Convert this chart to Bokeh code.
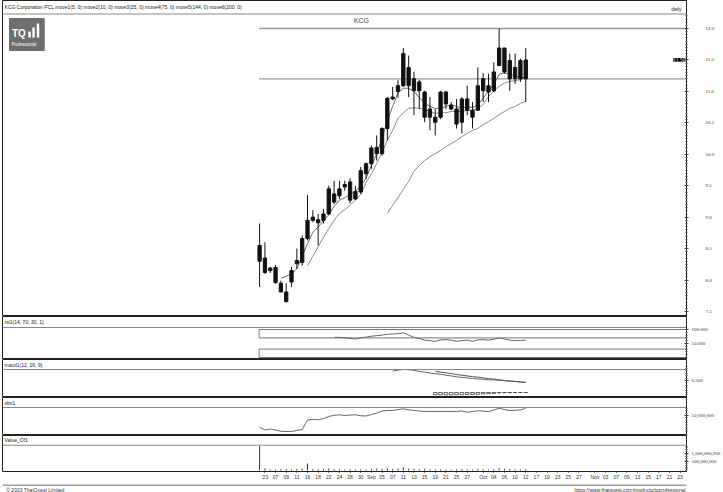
import numpy as np
from bokeh.plotting import figure
from bokeh.models import (ColumnDataSource, LinearAxis, FixedTicker, Range1d, Span, Label,
                          NumeralTickFormatter)
from bokeh.layouts import column
from bokeh.embed import file_html
from bokeh.resources import INLINE
from bokeh.core.properties import value

nan = float("nan")

# ---------------- data ----------------
symbol = "KCG"
title_text = "KCG Corporation PCL  move1(5, 0)  move2(10, 0)  move3(25, 0)  move4(75, 0)  move5(144, 0)  move6(200, 0)"

x_label_idx = [1, 3, 5, 7, 9, 11, 13, 15, 17, 19, 21, 23, 25, 27, 29, 31, 33, 35, 37, 39,
               42, 44, 46, 48, 50, 52, 54, 56, 58, 60, 63, 65, 67, 69, 71, 73, 75, 77, 79]
x_labels = ["'23", "07", "09", "11", "16", "18", "22", "24", "28", "30", "Sep", "05", "07", "11",
            "13", "15", "19", "21", "25", "27", "Oct", "04", "06", "10", "12", "17", "19", "23",
            "25", "27", "Nov", "03", "07", "09", "13", "15", "17", "21", "23"]

opens = [8.55, 8.35, 8.15, 8.20, 7.95, 7.81, 7.97, 8.26, 8.28, 8.66, 8.95, 8.96, 8.95, 9.05, 9.37,
         9.34, 9.48, 9.56, 9.29, 9.40, 9.69, 9.85, 10.01, 10.01, 10.41, 10.88, 11.00, 11.09, 11.38,
         11.20, 11.01, 10.99, 10.59, 10.59, 10.59, 10.99, 10.78, 10.72, 10.51, 10.88, 10.70, 10.70,
         11.01, 11.09, 11.01, 11.41, 11.69, 11.49, 11.20, 11.20, 11.20]
highs = [8.90, 8.60, 8.21, 8.24, 7.99, 7.95, 8.21, 8.50, 8.71, 9.35, 9.11, 9.05, 9.13, 9.50, 9.58,
         9.58, 9.58, 9.62, 9.50, 9.80, 9.87, 10.14, 10.30, 10.43, 10.91, 11.07, 11.18, 11.69, 11.57,
         11.31, 11.18, 11.01, 10.91, 10.72, 11.01, 11.01, 10.83, 10.88, 10.91, 11.09, 10.83, 11.38,
         11.29, 11.28, 11.46, 12.00, 11.69, 11.60, 11.60, 11.52, 11.69]
lows = [7.89, 8.10, 8.11, 7.94, 7.81, 7.64, 7.89, 8.18, 8.23, 8.63, 8.92, 8.55, 8.90, 9.03, 9.21,
        9.29, 9.42, 9.22, 9.27, 9.37, 9.61, 9.77, 9.90, 9.98, 10.22, 10.86, 10.90, 11.07, 10.91,
        10.62, 10.72, 10.51, 10.38, 10.30, 10.56, 10.72, 10.70, 10.41, 10.33, 10.62, 10.41, 10.70,
        10.83, 10.83, 10.99, 11.41, 11.28, 11.01, 11.12, 11.15, 10.83]
closes = [8.30, 8.12, 8.19, 7.96, 7.81, 7.66, 8.15, 8.31, 8.66, 8.95, 9.00, 8.91, 9.05, 9.45, 9.24,
          9.45, 9.52, 9.27, 9.41, 9.74, 9.85, 10.10, 10.11, 10.41, 10.89, 10.91, 11.09, 11.60, 11.09,
          11.01, 11.15, 10.59, 10.72, 10.51, 10.99, 10.80, 10.72, 10.48, 10.88, 10.70, 10.59, 11.09,
          11.20, 10.99, 11.31, 11.69, 11.31, 11.20, 11.38, 11.49, 11.50]

ma5 = [nan] * 4 + [8.03, 8.06, 8.10, 8.18, 8.38, 8.58, 8.76, 8.84, 8.95, 9.04, 9.17, 9.27, 9.31,
                   9.36, 9.41, 9.49, 9.62, 9.82, 10.01, 10.25, 10.54, 10.76, 10.98, 11.05, 11.05,
                   11.00, 10.90, 10.82, 10.76, 10.73, 10.73, 10.76, 10.79, 10.76, 10.73, 10.76,
                   10.74, 10.79, 10.89, 11.00, 11.11, 11.27, 11.30, 11.27, 11.25, 11.22, 11.22]
ma10 = [nan] * 9 + [8.23, 8.38, 8.53, 8.68, 8.82, 8.95, 9.06, 9.12, 9.19, 9.27, 9.36, 9.55, 9.69,
                    9.85, 10.03, 10.22, 10.38, 10.57, 10.66, 10.73, 10.74, 10.73, 10.71, 10.68,
                    10.65, 10.66, 10.66, 10.68, 10.68, 10.68, 10.70, 10.70, 10.73, 10.79, 10.92,
                    11.00, 11.08, 11.13, 11.16, 11.17, 11.19, 11.21]
ma25 = [nan] * 24 + [9.06, 9.19, 9.31, 9.44, 9.57, 9.73, 9.82, 9.90, 9.96, 10.01, 10.06, 10.12,
                     10.17, 10.22, 10.28, 10.33, 10.38, 10.41, 10.47, 10.52, 10.57, 10.63, 10.68,
                     10.73, 10.76, 10.81, 10.84]
h_levels = [12.00, 11.20]

rsi_levels = (70, 30)
rsi = [nan] * 14 + [72, 72, 70, 68, 66, 70, 73, 76, 78, 80, 83, 84, 85, 88, 80, 72, 68, 62, 60, 58,
                    63, 64, 62, 58, 60, 62, 58, 63, 64, 62, 65, 70, 66, 62, 60, 61, 62]

macd = [nan] * 25 + [0.89, 0.93, 0.96, 0.95, 0.92, 0.88, 0.85, 0.81, 0.78, 0.76, 0.72, 0.69, 0.66,
                     0.63, 0.61, 0.58, 0.57, 0.55, 0.53, 0.52, 0.51, 0.49, 0.47, 0.46, 0.44, 0.42]
signal = [nan] * 33 + [0.87, 0.85, 0.82, 0.79, 0.75, 0.72, 0.69, 0.66, 0.64, 0.61, 0.58, 0.56,
                       0.53, 0.50, 0.48, 0.46, 0.44, 0.42]
hist = [nan] * 33 + [-0.09, -0.09, -0.10, -0.10, -0.09, -0.09, -0.08, -0.08, -0.07, -0.06, -0.05,
                     -0.04, -0.02, -0.01, -0.01, 0.0, 0.0, 0.0]

obv = [0, -12e6, -8e6, -12e6, -17.5e6, -18.4e6, -18.4e6, -14e6, -10e6, 30.7e6, 33e6, 31.6e6, 37e6,
       45.7e6, 50.8e6, 53e6, 50e6, 52e6, 53e6, 48.7e6, 47.8e6, 54e6, 60.6e6, 69e6, 71.3e6, 71.3e6,
       75.6e6, 78.6e6, 74.3e6, 71.3e6, 69e6, 67e6, 67e6, 67e6, 67e6, 67e6, 67e6, 67e6, 69e6, 64e6,
       67e6, 70e6, 69e6, 67e6, 73.4e6, 81e6, 75.6e6, 71.3e6, 72.6e6, 73.4e6, 81e6]

value_traded = [1.40e9, 120e6, 60e6, 60e6, 80e6, 90e6, 70e6, 90e6, 110e6, 400e6, 90e6, 70e6, 90e6,
                120e6, 80e6, 70e6, 60e6, 80e6, 60e6, 70e6, 60e6, 100e6, 120e6, 100e6, 130e6, 90e6,
                120e6, 180e6, 110e6, 100e6, 80e6, 100e6, 70e6, 60e6, 70e6, 60e6, 50e6, 70e6, 80e6,
                60e6, 50e6, 90e6, 70e6, 60e6, 80e6, 140e6, 100e6, 90e6, 60e6, 70e6, 80e6]

# ---------------- layout helpers ----------------
FONT = "Liberation Sans"
AXFONT = "Liberation Sans Narrow"
W = 723
RB = 31
LB = 2
X_START, X_END = -48.3, 80.2
XR = Range1d(X_START, X_END)
idx = list(range(len(closes)))


def bx(xr):  # reference-pixel x -> bar index (decorations only)
    return (xr - 262.3) / 5.37


def lin(y_ref, a, b):
    (y0, v0), (y1, v1) = a, b
    return v0 + (y_ref - y0) * (v1 - v0) / (y1 - y0)


def base_fig(h, yr, bottom=0):
    f = figure(width=W, height=h, x_range=XR, y_range=Range1d(*yr), x_axis_type=None,
               y_axis_type=None, toolbar_location=None, output_backend="svg", min_border=0,
               min_border_left=LB, min_border_right=RB, min_border_bottom=bottom, min_border_top=0)
    f.outline_line_color = "#222"
    f.outline_line_width = 1
    f.background_fill_color = "white"
    f.border_fill_color = "white"
    return f


def right_axis(f, ticks, minor, fmt, standoff=3):
    ax = LinearAxis(ticker=FixedTicker(ticks=ticks, minor_ticks=minor),
                    formatter=NumeralTickFormatter(format=fmt))
    ax.major_label_text_font_size = "5px"
    ax.major_label_text_font = AXFONT
    ax.major_label_text_color = "#333"
    ax.major_tick_in = 2
    ax.major_tick_out = 2
    ax.minor_tick_in = 1
    ax.minor_tick_out = 1
    ax.major_tick_line_color = "#333"
    ax.minor_tick_line_color = "#555"
    ax.major_label_standoff = standoff
    ax.axis_line_color = "#222"
    f.add_layout(ax, "right")
    return ax


def header(f, text, y_text, y_line):
    f.add_layout(Label(x=bx(5), y=y_text, text=text, text_font=FONT, text_font_size="5px",
                       text_color="#222", text_baseline="middle"))
    f.add_layout(Span(location=y_line, dimension="width", line_color="#888", line_width=1))


# ---------------- price panel ----------------
PA, PB = (28, 12.0), (311, 7.5)
py = lambda yr: lin(yr, PA, PB)
pf = base_fig(316, (py(316), py(0)))

# logo
pf.quad(left=[bx(10)], right=[bx(45)], top=[py(18)], bottom=[py(50)], fill_color="#6e6e6e",
        line_color="#6e6e6e")
pf.text(x=[bx(12.5)], y=[py(33)], text=["TQ"], text_font=value(FONT), text_font_size="10px",
        text_font_style="bold", text_color="white", text_baseline="middle")
pf.quad(left=[bx(29), bx(33), bx(37.5)], right=[bx(31.5), bx(35.5), bx(40)],
        top=[py(31), py(27), py(23)], bottom=[py(37), py(37), py(37)], fill_color="white",
        line_color=None)
pf.text(x=[bx(12)], y=[py(44)], text=["Professional"], text_font=value(FONT),
        text_font_size="4.5px", text_color="white", text_baseline="middle")

header(pf, title_text, py(6.5), py(13.5))
pf.add_layout(Label(x=bx(688), y=py(8), text="daily", text_font=FONT, text_font_size="5px",
                    text_color="#222", text_baseline="middle", text_align="right"))
pf.add_layout(Label(x=bx(365), y=py(20), text=symbol, text_font=FONT, text_font_size="7px",
                    text_color="#444", text_baseline="middle", text_align="center"))

pf.segment(x0=[idx[0] - 0.1] * len(h_levels), y0=h_levels, x1=[X_END] * len(h_levels),
           y1=h_levels, line_color="#999", line_width=1.3)

src = ColumnDataSource(dict(x=idx, open=opens, high=highs, low=lows, close=closes,
                            top=np.maximum(opens, closes), bottom=np.minimum(opens, closes)))
pf.line(idx, ma25, line_color="#8a8a8a", line_width=1)
pf.line(idx, ma10, line_color="#8a8a8a", line_width=1)
pf.line(idx, ma5, line_color="#6a6a6a", line_width=1)
pf.segment(x0="x", y0="low", x1="x", y1="high", source=src, line_color="#111", line_width=1)
pf.vbar(x="x", width=0.62, top="top", bottom="bottom", source=src, fill_color="#111",
        line_color="#111", line_width=1)

price_ticks = [7.5, 8.0, 8.5, 9.0, 9.5, 10.0, 10.5, 11.0, 11.5, 12.0]
price_minor = [round(7.45 + 0.05 * i, 2) for i in range(96)]
right_axis(pf, price_ticks, price_minor, "0.0", standoff=17)
pf.add_layout(Label(x=X_END, y=closes[-1], x_offset=-1, text=f"{closes[-1]:.2f}", text_font=AXFONT,
                    text_font_size="5.5px", text_color="white", background_fill_color="black",
                    text_baseline="middle", text_align="right"))

# ---------------- RSI panel ----------------
RA, RBk = (357, 0), (329, 100)
ry = lambda yr: lin(yr, RA, RBk)
rf = base_fig(43, (ry(359), ry(316)))
header(rf, "rsi1(14, 70, 30, 1)", ry(321.5), ry(327))
rf.quad(left=[idx[0] - 0.1] * 2, right=[X_END] * 2, bottom=[rsi_levels[0], 0],
        top=[100, rsi_levels[1]], fill_color=None, line_color="#777", line_width=1)
rf.line(idx, rsi, line_color="#666", line_width=1)
right_axis(rf, [50, 100], [10 * i for i in range(11)], "0.000")

# ---------------- MACD panel ----------------
MA_, MB_ = (392, 0.0), (380, 0.5)
my = lambda yr: lin(yr, MA_, MB_)
mf = base_fig(38, (my(397), my(359)))
header(mf, "macd1(12, 26, 9)", my(364), my(369))
mf.vbar(x=idx, width=0.7, top=[0 if not np.isnan(v) else nan for v in hist], bottom=hist,
        fill_color="white", line_color="#444", line_width=0.8)
mf.line(idx, macd, line_color="#666", line_width=1)
mf.line(idx, signal, line_color="#555", line_width=1)
right_axis(mf, [0.5], [round(-0.1 + 0.1 * i, 2) for i in range(13)], "0.000")

# ---------------- OBV panel ----------------
OA, OB = (426.7, 0.0), (415, 50e6)
oy = lambda yr: lin(yr, OA, OB)
of = base_fig(38, (oy(435), oy(397)))
header(of, "obv1", oy(402), oy(407))
of.line(idx, obv, line_color="#666", line_width=1)
right_axis(of, [50e6], [10e6 * i for i in range(-3, 9)], "0,0")

# ---------------- Value panel ----------------
VA, VB = (471, 0.0), (453, 1e9)
vy = lambda yr: lin(yr, VA, VB)
vf = base_fig(47, (vy(472), vy(435)), bottom=10)
header(vf, "Value_Of1", vy(440), vy(445))
vf.segment(x0=idx, y0=[0] * len(idx), x1=idx, y1=value_traded, line_color="#333", line_width=1)
right_axis(vf, [5e8, 1e9], [1e8 * i for i in range(15)], "0,0")
xa = LinearAxis(ticker=FixedTicker(ticks=x_label_idx),
                major_label_overrides={i: s for i, s in zip(x_label_idx, x_labels)})
xa.major_label_text_font_size = "5px"
xa.major_label_text_font = FONT
xa.major_label_text_color = "#333"
xa.major_tick_in = 0
xa.major_tick_out = 1
xa.minor_tick_line_color = None
xa.major_label_standoff = 1
xa.axis_line_color = None
vf.add_layout(xa, "below")

# ---------------- footer ----------------
ft = figure(width=W, height=10, x_range=Range1d(0, W), y_range=Range1d(0, 10), x_axis_type=None,
            y_axis_type=None, toolbar_location=None, output_backend="svg", min_border=0)
ft.outline_line_color = None
ft.add_layout(Span(location=9.5, dimension="width", line_color="#444", line_width=1))
ft.text(x=[4], y=[4.5], text=["\u00a9 2023 ThaiQuest Limited"], text_font=value(FONT),
        text_font_size="5px", text_color="#333", text_baseline="middle")
ft.text(x=[W - 1], y=[4.5], text=["https://www.thaiquest.com/products/tqprofessional"],
        text_font=value(FONT), text_font_size="5px", text_color="#333", text_baseline="middle",
        text_align="right")

p = column(pf, rf, mf, of, vf, ft, spacing=0)
open("out.html", "w").write(file_html(p, INLINE))
